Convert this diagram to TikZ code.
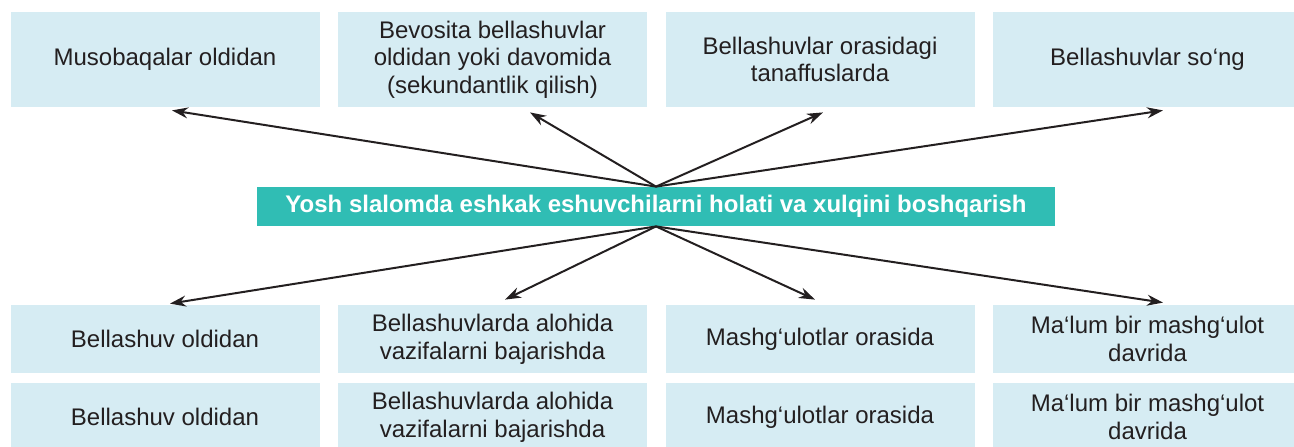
\documentclass[tikz,border=0pt]{standalone}
\usepackage{fontspec}
\setmainfont{Liberation Sans}
\usetikzlibrary{arrows.meta}
\definecolor{boxblue}{RGB}{214,236,243}
\definecolor{barteal}{RGB}{48,189,180}
\definecolor{inkgray}{RGB}{35,31,32}
\begin{document}
\begin{tikzpicture}[x=0.5pt,y=-0.5pt,
		case/.style={fill=boxblue, text=inkgray, align=center, inner sep=0pt,
			minimum width=154.5pt, font=\fontsize{12}{13.8}\selectfont},
		upper/.style={case, minimum height=47.5pt},
		lower/.style={case, minimum height=34pt},
		link/.style={draw=inkgray, line width=1pt, -{Stealth[length=8pt,width=5.5pt]}}]
			\useasboundingbox (0,0) rectangle (1294,446);
			% top row
			\node [upper] (t1) at (165,59.5) {Musobaqalar oldidan};
			\node [upper] (t2) at (492.5,59.5) {Bevosita bellashuvlar\\oldidan yoki davomida\\(sekundantlik qilish)};
			\node [upper] (t3) at (820,59.5) {Bellashuvlar orasidagi\\tanaffuslarda};
			\node [upper] (t4) at (1147.5,59.5) {Bellashuvlar so‘ng};
			% centre bar
			\node [fill=barteal, text=white, inner sep=0pt, minimum width=399pt, minimum height=19.5pt,
				font=\fontsize{12}{13.8}\selectfont\bfseries] (bar) at (656,206.5)
				{Yosh slalomda eshkak eshuvchilarni holati va xulqini boshqarish};
			% bottom rows
			\node [lower] (b1) at (165,339) {Bellashuv oldidan};
			\node [lower] (b2) at (492.5,339) {Bellashuvlarda alohida\\vazifalarni bajarishda};
			\node [lower] (b3) at (820,339) {Mashg‘ulotlar orasida};
			\node [lower] (b4) at (1147.5,339) {Ma‘lum bir mashg‘ulot\\davrida};
			\node [lower] (c1) at (165,417) {Bellashuv oldidan};
			\node [lower] (c2) at (492.5,417) {Bellashuvlarda alohida\\vazifalarni bajarishda};
			\node [lower] (c3) at (820,417) {Mashg‘ulotlar orasida};
			\node [lower] (c4) at (1147.5,417) {Ma‘lum bir mashg‘ulot\\davrida};
			% arrows
			\draw [link] (bar.north) -- ([shift={(7,3)}]t1.south);
			\draw [link] (bar.north) -- ([shift={(37.5,5)}]t2.south);
			\draw [link] (bar.north) -- ([shift={(3,5)}]t3.south);
			\draw [link] (bar.north) -- ([shift={(15.5,3)}]t4.south);
			\draw [link] (bar.south) -- ([shift={(5,-1)}]b1.north);
			\draw [link] (bar.south) -- ([shift={(12.5,-5)}]b2.north);
			\draw [link] (bar.south) -- ([shift={(-5,-5)}]b3.north);
			\draw [link] (bar.south) -- ([shift={(15.5,-2)}]b4.north);
		\end{tikzpicture}
\end{document}
